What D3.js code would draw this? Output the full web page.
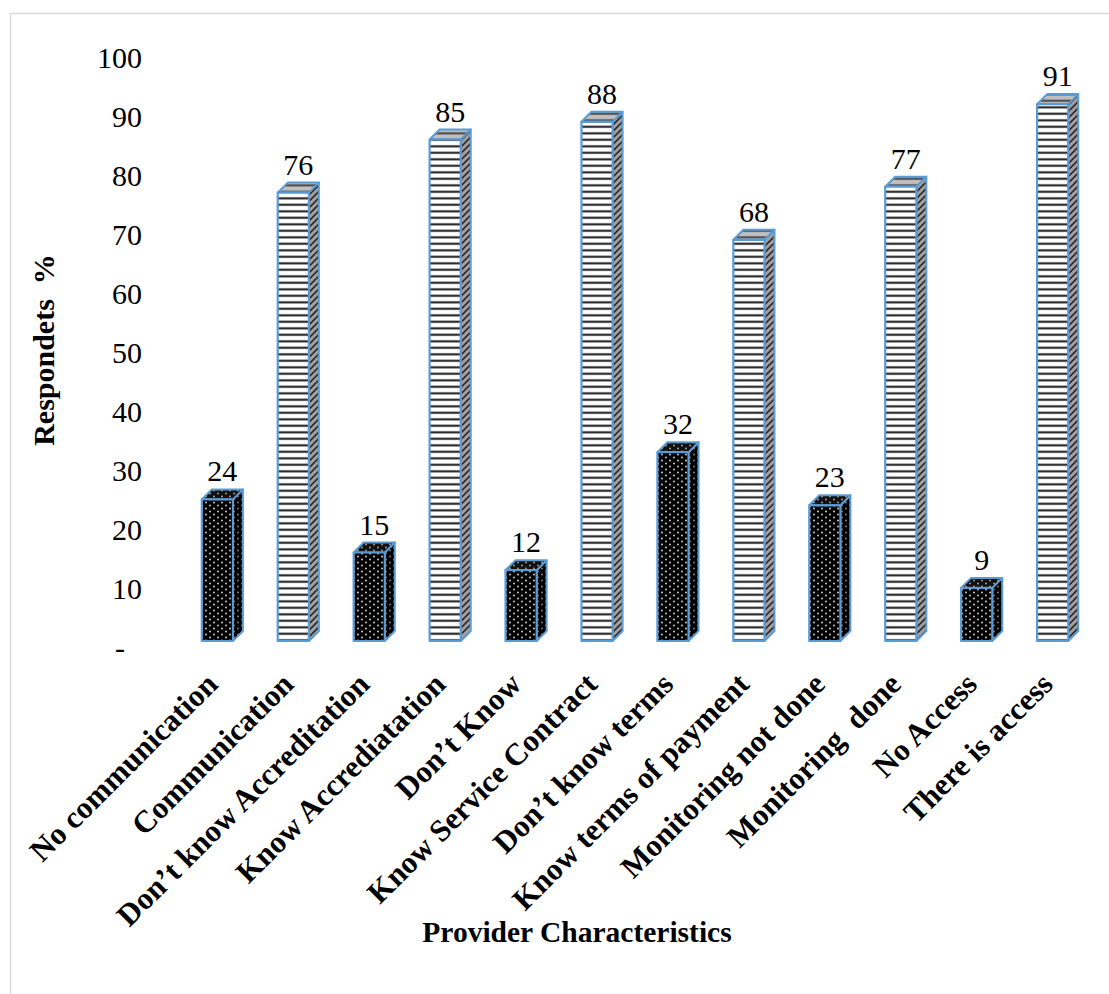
<!DOCTYPE html>
<html>
<head>
<meta charset="utf-8">
<script src="https://cdn.jsdelivr.net/npm/d3@7"></script>
<style>
  html, body { margin: 0; padding: 0; background: #fff; }
  svg { display: block; font-family: "Liberation Serif", "Times New Roman", serif; }
</style>
</head>
<body>
<svg id="chart" width="1109" height="994"></svg>
<script>
// Provider characteristics: share of respondents (%)
const categories = [
  "No communication", "Communication", "Don\u2019t know Accreditation", "Know Accrediatation",
  "Don\u2019t Know", "Know Service Contract", "Don\u2019t know terms", "Know terms of payment",
  "Monitoring not done", "Monitoring  done", "No Access", "There is access"
];
const values = [24, 76, 15, 85, 12, 88, 32, 68, 23, 77, 9, 91];
// "neg" bars are the dark dotted ones, "pos" the white striped ones
const kinds = ["neg", "pos", "neg", "pos", "neg", "pos", "neg", "pos", "neg", "pos", "neg", "pos"];
const tickValues = [0, 10, 20, 30, 40, 50, 60, 70, 80, 90, 100];
const tickLabels = ["-", "10", "20", "30", "40", "50", "60", "70", "80", "90", "100"];

const svg = d3.select("#chart");
const W = 1109, H = 994;

// outer chart frame (runs past the right and bottom edges)
svg.append("rect")
  .attr("x", 10.5).attr("y", 13.5).attr("width", W + 20).attr("height", H + 20)
  .attr("fill", "#fff").attr("stroke", "#d9d9d9").attr("stroke-width", 1.5);

const defs = svg.append("defs");

// dotted fill for dark bars
function dotPattern(id, bg, dot) {
  const p = defs.append("pattern").attr("id", id).attr("patternUnits", "userSpaceOnUse")
    .attr("width", 8).attr("height", 6);
  p.append("rect").attr("width", 8).attr("height", 6).attr("fill", bg);
  p.append("circle").attr("cx", 2).attr("cy", 1.5).attr("r", 0.9).attr("fill", dot);
  p.append("circle").attr("cx", 6).attr("cy", 4.5).attr("r", 0.9).attr("fill", dot);
}
dotPattern("dotFront", "#000", "#e0e0e0");
dotPattern("dotSide", "#000", "#8a8a8a");
dotPattern("dotTop", "#111", "#aaaaaa");

// horizontal stripes for white bars
function stripePattern(id, bg, line, transform) {
  const p = defs.append("pattern").attr("id", id).attr("patternUnits", "userSpaceOnUse")
    .attr("width", 8).attr("height", 6.5);
  if (transform) p.attr("patternTransform", transform);
  p.append("rect").attr("width", 8).attr("height", 6.5).attr("fill", bg);
  p.append("rect").attr("y", 2.3).attr("width", 8).attr("height", 2).attr("fill", line);
}
stripePattern("stripeFront", "#fff", "#151515");
stripePattern("stripeSide", "#a0a0a0", "#151515", "skewY(-45)");
stripePattern("stripeTop", "#c0c0c0", "#444");

const x = d3.scaleBand().domain(categories).range([157, 1113]).padding(0.59);
const y = d3.scaleLinear().domain([0, 100]).range([641, 51]);

const dx = 10, dy = 10;
const outline = "#5b9bd5";

// value axis labels (drawn on the back wall, hence the shift)
const yAxis = d3.axisLeft(y).tickValues(tickValues)
  .tickFormat((d, i) => tickLabels[i]).tickSize(0).tickPadding(0);
const gy = svg.append("g").attr("transform", "translate(142,7)").call(yAxis);
gy.select(".domain").remove();
gy.selectAll("text")
  .attr("font-family", "'Liberation Serif', 'Times New Roman', serif")
  .attr("font-size", 30).attr("fill", "#000")
  .attr("dx", (d) => d === 0 ? -17 : 0);

// bars: front, side and top faces
const bars = svg.append("g").selectAll("g").data(categories).join("g");
bars.each(function (c, i) {
  const g = d3.select(this);
  const v = values[i];
  const x0 = x(c), w = x.bandwidth();
  const yt = y(v), yb = y(0);
  const neg = kinds[i] === "neg";
  g.append("polygon")
    .attr("points", [[x0 + w, yt], [x0 + w + dx, yt - dy], [x0 + w + dx, yb - dy], [x0 + w, yb]].join(" "))
    .attr("fill", neg ? "url(#dotSide)" : "url(#stripeSide)")
    .attr("stroke", outline).attr("stroke-width", 2).attr("stroke-linejoin", "round");
  g.append("polygon")
    .attr("points", [[x0, yt], [x0 + dx, yt - dy], [x0 + w + dx, yt - dy], [x0 + w, yt]].join(" "))
    .attr("fill", neg ? "url(#dotTop)" : "url(#stripeTop)")
    .attr("stroke", outline).attr("stroke-width", 2).attr("stroke-linejoin", "round");
  g.append("rect")
    .attr("x", x0).attr("y", yt).attr("width", w).attr("height", yb - yt)
    .attr("fill", neg ? "url(#dotFront)" : "url(#stripeFront)")
    .attr("stroke", outline).attr("stroke-width", 2.2).attr("stroke-linejoin", "round");
  g.append("text")
    .attr("x", x0 + w / 2 + dx / 2).attr("y", yt - dy - 8)
    .attr("text-anchor", "middle").attr("font-size", 30).attr("fill", "#000")
    .text(v);
});

// category labels, slanted
svg.append("g").selectAll("text").data(categories).join("text")
  .attr("transform", (c) => `translate(${x(c) + x.bandwidth() / 2 + 2},${686}) rotate(-45)`)
  .attr("text-anchor", "end")
  .attr("font-size", 31).attr("font-weight", "bold").attr("fill", "#000")
  .style("white-space", "pre")
  .text((c) => c);

// axis titles
svg.append("text")
  .attr("transform", "translate(54,350) rotate(-90)")
  .attr("text-anchor", "middle").attr("font-size", 30).attr("font-weight", "bold")
  .style("white-space", "pre")
  .text("Respondets  %");

svg.append("text")
  .attr("x", 577).attr("y", 942)
  .attr("text-anchor", "middle").attr("font-size", 29.5).attr("font-weight", "bold")
  .text("Provider Characteristics");
</script>
</body>
</html>
